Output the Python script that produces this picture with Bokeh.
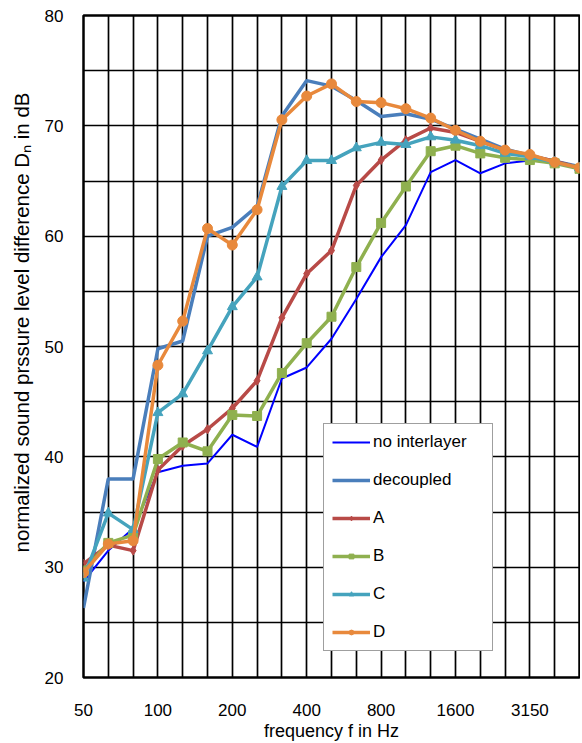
from bokeh.plotting import figure
from bokeh.models import Range1d, FixedTicker, Legend, LegendItem, Title
from bokeh.embed import file_html
from bokeh.resources import INLINE

bands = ["50", "63", "80", "100", "125", "160", "200", "250", "315", "400", "500",
         "630", "800", "1000", "1250", "1600", "2000", "2500", "3150", "4000", "5000"]
labelled_bands = ["50", "100", "200", "400", "800", "1600", "3150"]

no_interlayer = [28.7, 31.5, 33.5, 38.6, 39.2, 39.4, 42.0, 40.9, 47.1, 48.1, 50.7,
                 54.3, 58.1, 61.0, 65.8, 66.9, 65.7, 66.6, 66.85, 66.7, 66.3]
decoupled = [26.3, 38.0, 38.0, 49.8, 50.5, 60.0, 60.8, 62.7, 70.9, 74.1, 73.6,
             72.3, 70.85, 71.1, 70.6, 69.7, 68.8, 67.9, 67.3, 66.8, 66.3]
series_a = [30.3, 32.0, 31.5, 38.8, 41.0, 42.5, 44.4, 46.9, 52.6, 56.6, 58.7,
            64.6, 66.9, 68.7, 69.8, 69.4, 68.6, 67.8, 67.3, 66.8, 66.2]
series_b = [29.7, 32.2, 32.9, 39.8, 41.3, 40.5, 43.8, 43.7, 47.6, 50.3, 52.7,
            57.2, 61.2, 64.5, 67.7, 68.2, 67.5, 67.1, 66.9, 66.6, 66.1]
series_c = [29.0, 34.9, 33.4, 44.0, 45.7, 49.6, 53.6, 56.3, 64.5, 66.85, 66.85,
            68.0, 68.5, 68.3, 69.0, 68.7, 68.2, 67.5, 67.2, 66.7, 66.2]
series_d = [29.5, 32.1, 32.4, 48.3, 52.3, 60.7, 59.2, 62.4, 70.55, 72.7, 73.8,
            72.2, 72.1, 71.55, 70.7, 69.6, 68.6, 67.8, 67.4, 66.7, 66.2]

FONT = "Liberation Sans"
xs = list(range(len(bands)))

p = figure(width=580, height=743, output_backend="svg", toolbar_location=None,
           x_range=Range1d(0, len(bands) - 1), y_range=Range1d(20, 80),
           min_border_left=83, min_border_right=1, min_border_top=15, min_border_bottom=66)

p.outline_line_color = "black"
p.outline_line_width = 2.5
p.background_fill_color = "white"

# axes
tick_idx = [bands.index(b) for b in labelled_bands]
p.xaxis.ticker = FixedTicker(ticks=tick_idx)
p.xaxis.major_label_overrides = {i: bands[i] for i in tick_idx}
p.yaxis.ticker = FixedTicker(ticks=list(range(20, 81, 10)))
for ax in (p.xaxis[0], p.yaxis[0]):
    ax.axis_line_color = None
    ax.major_tick_line_color = None
    ax.minor_tick_line_color = None
    ax.major_tick_out = 0
    ax.major_tick_in = 0
    ax.minor_tick_out = 0
    ax.minor_tick_in = 0
    ax.major_label_text_font = FONT
    ax.major_label_text_font_size = "17px"
    ax.major_label_text_color = "black"
p.yaxis.major_label_standoff = 20
p.xaxis.major_label_standoff = 26
p.xaxis.axis_label = "frequency f in Hz"
p.xaxis.axis_label_text_font = FONT
p.xaxis.axis_label_text_font_size = "18px"
p.xaxis.axis_label_text_font_style = "normal"
p.xaxis.axis_label_text_color = "black"
p.xaxis.axis_label_standoff = 2

# grids
p.xgrid.ticker = FixedTicker(ticks=xs)
p.ygrid.ticker = FixedTicker(ticks=list(range(20, 81, 5)))
for g in (p.xgrid[0], p.ygrid[0]):
    g.grid_line_color = "black"
    g.grid_line_width = 1.7
    g.grid_line_alpha = 1.0

# y axis label as a side title (offset to match its position)
ytitle = Title(text="normalized sound prssure level difference Dₙ in dB",
               align="right", offset=77, standoff=15, vertical_align="middle",
               text_font=FONT, text_font_size="20.5px", text_font_style="normal",
               text_color="black")
p.add_layout(ytitle, "left")

items = []
r = p.line(xs, no_interlayer, line_color="#0000FF", line_width=2)
items.append(LegendItem(label="no interlayer", renderers=[r]))
r = p.line(xs, decoupled, line_color="#4A7EBB", line_width=3.5)
items.append(LegendItem(label="decoupled", renderers=[r]))

specs = [
    ("A", series_a, "#B84A47", "diamond", 9),
    ("B", series_b, "#8FB04F", "square", 9),
    ("C", series_c, "#45A3BD", "triangle", 10),
    ("D", series_d, "#E8893C", "circle", 10),
]
for name, ys, col, mk, sz in specs:
    rl = p.line(xs, ys, line_color=col, line_width=3.5)
    rs = p.scatter(xs, ys, marker=mk, size=sz, fill_color=col, line_color=col)
    items.append(LegendItem(label=name, renderers=[rl, rs]))

legend = Legend(items=items, location=(240, 26), orientation="vertical",
                padding=8, margin=0, spacing=18, label_height=12, glyph_height=12,
                glyph_width=38, label_width=111, label_standoff=3,
                label_text_font=FONT, label_text_font_size="17px", label_text_color="black",
                border_line_color="#404040", border_line_width=1.5,
                background_fill_color="white", background_fill_alpha=1.0)
p.add_layout(legend)

open("out.html", "w").write(file_html(p, INLINE))
